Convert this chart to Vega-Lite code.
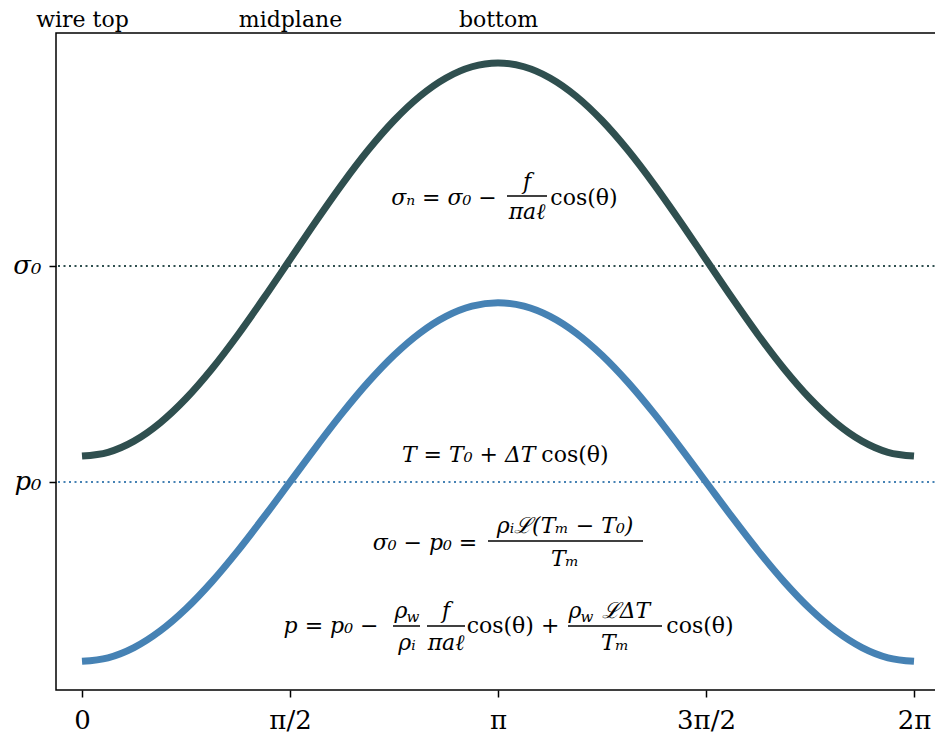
{
  "$schema": "https://vega.github.io/schema/vega-lite/v6.json",
  "description": "Normal stress and water pressure around a wire, cosine profiles",
  "width": 884,
  "height": 657,
  "autosize": "none",
  "padding": {"left": 56, "top": 33, "right": 0, "bottom": 45},
  "background": "white",
  "config": {
    "view": {"stroke": "black", "strokeWidth": 1.5},
    "axis": {
      "grid": false,
      "domain": false,
      "labelFont": "DejaVu Serif",
      "labelColor": "black",
      "tickColor": "black",
      "tickWidth": 1.5,
      "tickSize": 7
    }
  },
  "datasets": {
    "curves": [
      {"theta": 0, "sigma_n": 0.12, "p": -0.83},
      {"theta": 0.19635, "sigma_n": 0.1375, "p": -0.8141},
      {"theta": 0.3927, "sigma_n": 0.1893, "p": -0.7668},
      {"theta": 0.58905, "sigma_n": 0.2734, "p": -0.6901},
      {"theta": 0.7854, "sigma_n": 0.3865, "p": -0.5869},
      {"theta": 0.98175, "sigma_n": 0.5244, "p": -0.4611},
      {"theta": 1.1781, "sigma_n": 0.6818, "p": -0.3176},
      {"theta": 1.37445, "sigma_n": 0.8525, "p": -0.1619},
      {"theta": 1.5708, "sigma_n": 1.03, "p": 0},
      {"theta": 1.76715, "sigma_n": 1.2075, "p": 0.1619},
      {"theta": 1.9635, "sigma_n": 1.3782, "p": 0.3176},
      {"theta": 2.15985, "sigma_n": 1.5356, "p": 0.4611},
      {"theta": 2.35619, "sigma_n": 1.6735, "p": 0.5869},
      {"theta": 2.55254, "sigma_n": 1.7866, "p": 0.6901},
      {"theta": 2.74889, "sigma_n": 1.8707, "p": 0.7668},
      {"theta": 2.94524, "sigma_n": 1.9225, "p": 0.8141},
      {"theta": 3.14159, "sigma_n": 1.94, "p": 0.83},
      {"theta": 3.33794, "sigma_n": 1.9225, "p": 0.8141},
      {"theta": 3.53429, "sigma_n": 1.8707, "p": 0.7668},
      {"theta": 3.73064, "sigma_n": 1.7866, "p": 0.6901},
      {"theta": 3.92699, "sigma_n": 1.6735, "p": 0.5869},
      {"theta": 4.12334, "sigma_n": 1.5356, "p": 0.4611},
      {"theta": 4.31969, "sigma_n": 1.3782, "p": 0.3176},
      {"theta": 4.51604, "sigma_n": 1.2075, "p": 0.1619},
      {"theta": 4.71239, "sigma_n": 1.03, "p": 0},
      {"theta": 4.90874, "sigma_n": 0.8525, "p": -0.1619},
      {"theta": 5.10509, "sigma_n": 0.6818, "p": -0.3176},
      {"theta": 5.30144, "sigma_n": 0.5244, "p": -0.4611},
      {"theta": 5.49779, "sigma_n": 0.3865, "p": -0.5869},
      {"theta": 5.69414, "sigma_n": 0.2734, "p": -0.6901},
      {"theta": 5.89049, "sigma_n": 0.1893, "p": -0.7668},
      {"theta": 6.08684, "sigma_n": 0.1375, "p": -0.8141},
      {"theta": 6.28319, "sigma_n": 0.12, "p": -0.83}
    ],
    "levels": [
      {"level": "sigma0", "value": 1},
      {"level": "p0", "value": 0}
    ],
    "bars": [
      {"x": 3.2096, "x2": 3.5117, "y": 1.3241},
      {"x": 3.0661, "x2": 4.2367, "y": -0.2731},
      {"x": 2.3487, "x2": 2.5526, "y": -0.6667},
      {"x": 2.6054, "x2": 2.8924, "y": -0.6667},
      {"x": 3.6703, "x2": 4.3802, "y": -0.6667}
    ],
    "math_it": [
      {"x": 2.7338, "y": 1.2824, "t": "σₙ = σ₀ −"},
      {"x": 3.3606, "y": 1.3565, "t": "f"},
      {"x": 3.3606, "y": 1.2176, "t": "πaℓ"},
      {"x": 2.92, "y": 0.0926, "t": "T = T₀ + ΔT"},
      {"x": 2.5903, "y": -0.3148, "t": "σ₀ − p₀ ="},
      {"x": 3.6476, "y": -0.2361, "t": "ρᵢℒ(Tₘ − T₀)"},
      {"x": 3.6476, "y": -0.3889, "t": "Tₘ"},
      {"x": 1.8804, "y": -0.6991, "t": "p = p₀ −"},
      {"x": 2.4091, "y": -0.6296, "t": "ρ"},
      {"x": 2.4544, "y": -0.7778, "t": "ρᵢ"},
      {"x": 2.7489, "y": -0.6296, "t": "f"},
      {"x": 2.7489, "y": -0.7778, "t": "πaℓ"},
      {"x": 3.7231, "y": -0.6296, "t": "ρ"},
      {"x": 4.1083, "y": -0.6296, "t": "ℒΔT"},
      {"x": 4.0252, "y": -0.7778, "t": "Tₘ"}
    ],
    "math_rm": [
      {"x": 3.7911, "y": 1.2824, "t": "cos(θ)"},
      {"x": 3.7231, "y": 0.0926, "t": "cos(θ)"},
      {"x": 3.255, "y": -0.6991, "t": "cos(θ) +"},
      {"x": 4.6671, "y": -0.6991, "t": "cos(θ)"}
    ],
    "math_sub": [
      {"x": 2.4997, "y": -0.6481, "t": "w"},
      {"x": 3.8138, "y": -0.6481, "t": "w"}
    ]
  },
  "resolve": {"axis": {"x": "independent"}},
  "layer": [
    {
      "data": {"name": "levels"},
      "mark": {"type": "rule", "strokeDash": [2, 3.5], "strokeWidth": 2},
      "encoding": {
        "y": {
          "field": "value",
          "type": "quantitative",
          "scale": {"domain": [-0.963, 2.0787], "nice": false, "zero": false},
          "axis": {
            "values": [0, 1],
            "labelExpr": "datum.value == 1 ? 'σ₀' : 'p₀'",
            "labelFontSize": 26,
            "labelFontStyle": "italic",
            "labelPadding": 8,
            "title": null
          }
        },
        "color": {
          "field": "level",
          "type": "nominal",
          "scale": {"domain": ["sigma0", "p0"], "range": ["#2F4F4F", "#4682B4"]},
          "legend": null
        }
      }
    },
    {
      "data": {"name": "curves"},
      "mark": {"type": "line", "color": "#2F4F4F", "strokeWidth": 7, "interpolate": "monotone"},
      "encoding": {
        "x": {
          "field": "theta",
          "type": "quantitative",
          "scale": {"domain": [-0.19635, 6.47953], "nice": false, "zero": false},
          "axis": {
            "orient": "bottom",
            "values": [0, 1.5707963, 3.1415927, 4.712389, 6.2831853],
            "labelExpr": "['0','π/2','π','3π/2','2π'][round(datum.value / 1.5707963)]",
            "labelFontSize": 26,
            "labelPadding": 10,
            "title": null
          }
        },
        "y": {
          "field": "sigma_n",
          "type": "quantitative",
          "scale": {"domain": [-0.963, 2.0787], "nice": false, "zero": false},
          "axis": {"title": null}
        }
      }
    },
    {
      "data": {"name": "curves"},
      "mark": {"type": "line", "color": "#4682B4", "strokeWidth": 7, "interpolate": "monotone"},
      "encoding": {
        "x": {
          "field": "theta",
          "type": "quantitative",
          "scale": {"domain": [-0.19635, 6.47953], "nice": false, "zero": false},
          "axis": {
            "orient": "top",
            "values": [0, 1.5707963, 3.1415927],
            "labelExpr": "['wire top','midplane','bottom'][round(datum.value / 1.5707963)]",
            "ticks": false,
            "labelFontSize": 22,
            "labelPadding": 2,
            "title": null
          }
        },
        "y": {
          "field": "p",
          "type": "quantitative",
          "scale": {"domain": [-0.963, 2.0787], "nice": false, "zero": false},
          "axis": {"title": null}
        }
      }
    },
    {
      "data": {"name": "bars"},
      "mark": {"type": "rule", "color": "black", "strokeWidth": 1.5},
      "encoding": {
        "x": {"field": "x", "type": "quantitative", "scale": {"domain": [-0.19635, 6.47953], "nice": false, "zero": false}, "axis": null},
        "x2": {"field": "x2"},
        "y": {"field": "y", "type": "quantitative", "scale": {"domain": [-0.963, 2.0787], "nice": false, "zero": false}, "axis": {"title": null}}
      }
    },
    {
      "data": {"name": "math_it"},
      "mark": {"type": "text", "font": "DejaVu Serif", "fontStyle": "italic", "fontSize": 22, "align": "center", "baseline": "alphabetic", "color": "black"},
      "encoding": {
        "x": {"field": "x", "type": "quantitative", "scale": {"domain": [-0.19635, 6.47953], "nice": false, "zero": false}, "axis": null},
        "y": {"field": "y", "type": "quantitative", "scale": {"domain": [-0.963, 2.0787], "nice": false, "zero": false}, "axis": {"title": null}},
        "text": {"field": "t"}
      }
    },
    {
      "data": {"name": "math_rm"},
      "mark": {"type": "text", "font": "DejaVu Serif", "fontSize": 22, "align": "center", "baseline": "alphabetic", "color": "black"},
      "encoding": {
        "x": {"field": "x", "type": "quantitative", "scale": {"domain": [-0.19635, 6.47953], "nice": false, "zero": false}, "axis": null},
        "y": {"field": "y", "type": "quantitative", "scale": {"domain": [-0.963, 2.0787], "nice": false, "zero": false}, "axis": {"title": null}},
        "text": {"field": "t"}
      }
    },
    {
      "data": {"name": "math_sub"},
      "mark": {"type": "text", "font": "DejaVu Serif", "fontStyle": "italic", "fontSize": 15, "align": "center", "baseline": "alphabetic", "color": "black"},
      "encoding": {
        "x": {"field": "x", "type": "quantitative", "scale": {"domain": [-0.19635, 6.47953], "nice": false, "zero": false}, "axis": null},
        "y": {"field": "y", "type": "quantitative", "scale": {"domain": [-0.963, 2.0787], "nice": false, "zero": false}, "axis": {"title": null}},
        "text": {"field": "t"}
      }
    }
  ]
}
